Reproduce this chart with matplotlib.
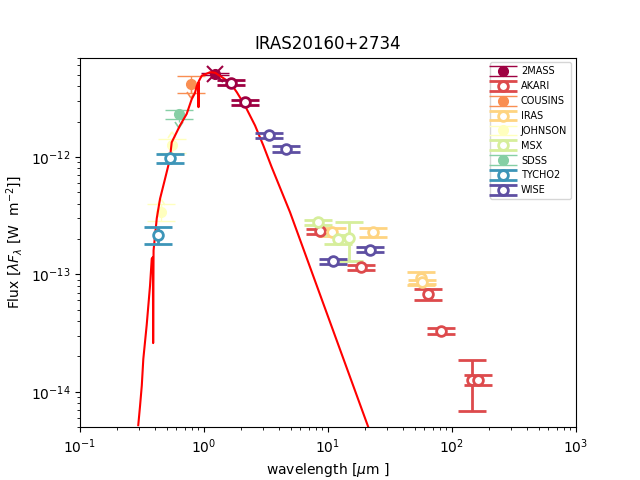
import numpy as np
import matplotlib
matplotlib.use('Agg')
import matplotlib.pyplot as plt

# model spectrum (wavelength in micron, lambda*F_lambda in W m^-2)
model_wl = [0.295, 0.305, 0.315, 0.324, 0.345, 0.367, 0.379, 0.387, 0.389, 0.392,
            0.416, 0.442, 0.485, 0.53, 0.549, 0.64, 0.725, 0.796, 0.846, 0.873,
            0.90, 0.903, 0.907, 0.958, 1.12, 1.23, 1.62, 1.84, 2.14, 2.58,
            3.01, 3.51, 4.94, 21.0, 30.0]
model_fl = [5.2e-15, 7.6e-15, 1.13e-14, 1.9e-14, 3.7e-14, 8.0e-14, 1.36e-13, 1.4e-13, 2.6e-14, 1.6e-13,
            3.0e-13, 4.4e-13, 6.5e-13, 9.5e-13, 1.33e-12, 1.85e-12, 2.32e-12, 3.1e-12, 3.5e-12, 4.0e-12,
            4.3e-12, 2.65e-12, 4.4e-12, 4.9e-12, 5.26e-12, 5.2e-12, 4.3e-12, 3.55e-12, 2.73e-12, 1.85e-12,
            1.25e-12, 8.2e-13, 3.38e-13, 5.1e-15, 1.77e-15]

catalogs = ['2MASS', 'AKARI', 'COUSINS', 'IRAS', 'JOHNSON', 'MSX', 'SDSS', 'TYCHO2', 'WISE']

wl = {
    '2MASS': [1.23, 1.65, 2.16],
    'AKARI': [8.6, 18.5, 64.0, 81.5, 144.0, 163.0],
    'COUSINS': [0.79],
    'IRAS': [10.7, 23.0, 56.0, 57.0],
    'JOHNSON': [0.45, 0.549],
    'MSX': [8.35, 12.1, 14.9],
    'SDSS': [0.63],
    'TYCHO2': [0.423, 0.532],
    'WISE': [3.34, 4.58, 11.0, 21.8],
}
flux = {
    '2MASS': [5.1e-12, 4.27e-12, 2.92e-12],
    'AKARI': [2.33e-13, 1.15e-13, 6.8e-14, 3.3e-14, 1.27e-14, 1.27e-14],
    'COUSINS': [4.2e-12],
    'IRAS': [2.3e-13, 2.3e-13, 9.3e-14, 8.6e-14],
    'JOHNSON': [3.4e-13, 1.25e-12],
    'MSX': [2.78e-13, 2.0e-13, 2.04e-13],
    'SDSS': [2.31e-12],
    'TYCHO2': [2.17e-13, 9.75e-13],
    'WISE': [1.53e-12, 1.17e-12, 1.29e-13, 1.62e-13],
}
ferr = {
    '2MASS': [0.1e-12, 0.2e-12, 0.15e-12],
    'AKARI': [1.2e-14, 0.6e-14, 0.75e-14, 0.17e-14, 0.58e-14, 0.13e-14],
    'COUSINS': [0.7e-12],
    'IRAS': [1.8e-14, 2.0e-14, 1.2e-14, 0.4e-14],
    'JOHNSON': [0.55e-13, 0.18e-12],
    'MSX': [1.5e-14, 1.8e-14, 0.75e-13],
    'SDSS': [0.22e-12],
    'TYCHO2': [0.35e-13, 0.08e-12],
    'WISE': [0.08e-12, 0.06e-12, 0.065e-13, 0.08e-13],
}
# filled marker = point not used in the fit
filled = {
    '2MASS': [True, False, False],
    'AKARI': [False] * 6,
    'COUSINS': [True],
    'IRAS': [False] * 4,
    'JOHNSON': [True, True],
    'MSX': [False] * 3,
    'SDSS': [True],
    'TYCHO2': [False, False],
    'WISE': [False] * 4,
}
# small limit carets drawn on the filled points
caret_below = ['COUSINS', 'SDSS']
caret_above = ['JOHNSON']
cross_on = ['2MASS']

cols = plt.cm.Spectral(np.linspace(0, 1, len(catalogs)))

fig, ax = plt.subplots(figsize=(6.4, 4.8), dpi=100)
ax.plot(model_wl, model_fl, color='red', lw=1.5, zorder=2.5)


def caret(x, y, c, below):
    if below:
        eb = ax.errorbar(x, y, yerr=0.15 * y, uplims=True, fmt='none',
                         ecolor=c, elinewidth=1, capsize=3, capthick=1, zorder=2)
    else:
        eb = ax.errorbar(x, y, yerr=0.15 * y, lolims=True, fmt='none',
                         ecolor=c, elinewidth=1, capsize=3, capthick=1, zorder=2)
    for cl in eb[1]:
        cl.set_markerfacecolor('none')
        cl.set_markeredgecolor(c)
        cl.set_markeredgewidth(1.2)


for c, name in zip(cols, catalogs):
    x = np.array(wl[name])
    y = np.array(flux[name])
    e = np.array(ferr[name])
    f = np.array(filled[name])
    labelled = False
    for grp in [True, False]:
        m = f == grp
        if not m.any():
            continue
        lab = None if labelled else name
        labelled = True
        if grp:
            ax.errorbar(x[m], y[m], yerr=e[m], fmt='o', color=c, ms=7,
                        elinewidth=1, capsize=10, capthick=1, label=lab, zorder=2)
            if name in caret_below:
                caret(x[m], y[m], c, True)
            if name in caret_above:
                caret(x[m], y[m], c, False)
            if name in cross_on:
                ax.plot(x[m][:1], y[m][:1], 'x', color=c, ms=11, mew=1.5, zorder=2)
        else:
            ax.errorbar(x[m], y[m], yerr=e[m], fmt='o', color=c, mfc='white', mec=c,
                        mew=2, ms=7, elinewidth=2, capsize=10, capthick=2,
                        label=lab, zorder=3)

ax.set_xscale('log')
ax.set_yscale('log')
ax.set_xlim(0.1, 1000)
ax.set_ylim(5e-15, 7e-12)
ax.set_title('IRAS20160+2734')
ax.set_xlabel(r'wavelength [$\mu$m ]')
ax.set_ylabel(r'Flux [$\lambda F_\lambda$ [W  m$^{-2}$]]')
ax.legend(loc='upper right', fontsize=7, labelspacing=0.5)

fig.savefig('out.png')
